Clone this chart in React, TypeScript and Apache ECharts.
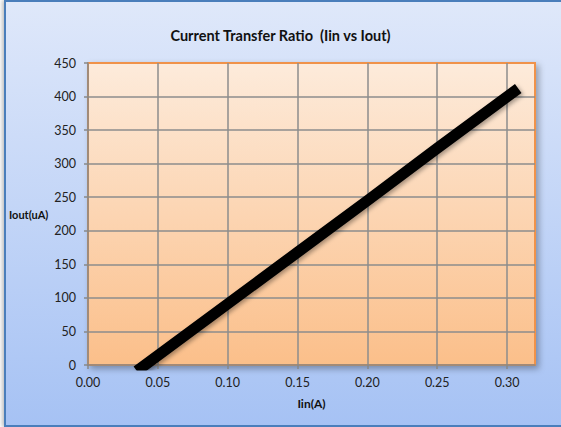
import React, { useEffect, useRef } from "react";
import * as echarts from "echarts";

const iinValues = [0.035, 0.1, 0.15, 0.2, 0.25, 0.308];
const ioutValues = [-9, 91, 168, 245, 323, 412];
const xTickInterval = 0.05;
const yTickInterval = 50;
const titleText = "Current Transfer Ratio  (Iin vs Iout)";
const xAxisName = "Iin(A)";
const yAxisName = "Iout(uA)";

const FONT = "Lato, 'Liberation Sans', sans-serif";

export default function App() {
  const ref = useRef<HTMLDivElement>(null);
  useEffect(() => {
    if (!ref.current) return;
    const chart = echarts.init(ref.current, undefined, { renderer: "svg" });
    const data = iinValues.map((x, i) => [x, ioutValues[i]]);
    chart.setOption({
      animation: false,
      backgroundColor: "transparent",
      title: {
        text: titleText,
        left: "center",
        top: 23,
        textStyle: { fontFamily: FONT, fontSize: 14.5, fontWeight: "bold", color: "#111" },
      },
      grid: {
        left: 88,
        top: 63,
        right: 26,
        bottom: 62,
        show: true,
        borderColor: "#f0924a",
        borderWidth: 2,
        backgroundColor: new echarts.graphic.LinearGradient(0, 0, 0, 1, [
          { offset: 0, color: "#fdebdb" },
          { offset: 1, color: "#fbbf8a" },
        ]),
        shadowColor: "rgba(0,0,0,0.3)",
        shadowBlur: 6,
        shadowOffsetX: 3,
        shadowOffsetY: 3,
      },
      xAxis: {
        type: "value",
        min: 0,
        max: 0.32,
        interval: xTickInterval,
        name: xAxisName,
        nameLocation: "middle",
        nameGap: 32,
        nameTextStyle: { fontFamily: FONT, fontSize: 12, fontWeight: "bold", color: "#111", verticalAlign: "top" },
        axisLine: { show: true, lineStyle: { color: "#888888", width: 1.5 } },
        axisTick: { show: true, length: 4, lineStyle: { color: "#888888", width: 1.5 } },
        axisLabel: {
          margin: 11,
          showMaxLabel: false,
          fontFamily: FONT,
          fontSize: 12.5,
          color: "#222",
          formatter: (v: number) => v.toFixed(2),
        },
        splitLine: { show: true, showMaxLine: false, showMinLine: false, lineStyle: { color: "#8c8c8c", width: 1.5 } },
      },
      yAxis: {
        type: "value",
        min: 0,
        max: 450,
        interval: yTickInterval,
        name: yAxisName,
        nameLocation: "middle",
        nameRotate: 0,
        nameGap: 34,
        nameTextStyle: { fontFamily: FONT, fontSize: 11, fontWeight: "bold", color: "#111" },
        axisLine: { show: true, lineStyle: { color: "#888888", width: 1.5 } },
        axisTick: { show: true, length: 4, lineStyle: { color: "#888888", width: 1.5 } },
        axisLabel: { margin: 12, fontFamily: FONT, fontSize: 12.5, color: "#222" },
        splitLine: { show: true, showMaxLine: false, showMinLine: false, lineStyle: { color: "#8c8c8c", width: 1.5 } },
      },
      series: [
        {
          type: "line",
          data,
          showSymbol: false,
          symbol: "none",
          clip: true,
          lineStyle: {
            color: "#000",
            width: 11,
            cap: "butt",
            join: "round",
            shadowColor: "rgba(0,0,0,0.35)",
            shadowBlur: 4,
            shadowOffsetX: 2,
            shadowOffsetY: 2,
          },
        },
      ],
    });
    return () => chart.dispose();
  }, []);

  return (
    <div style={{ position: "fixed", left: 0, top: 0, width: 561, height: 427, background: "#ffffff", overflow: "hidden" }}>
      <div
        style={{
          position: "absolute",
          left: 4,
          top: 0,
          width: 600,
          height: 423,
          border: "2px solid #4a7ebb",
          background: "linear-gradient(to bottom, #dfe8fa, #a6c2f4)",
          boxShadow: "-2px 0 4px rgba(0,0,0,0.25)",
        }}
      />
      <div ref={ref} style={{ position: "absolute", left: 0, top: 0, width: 561, height: 427 }} />
    </div>
  );
}
